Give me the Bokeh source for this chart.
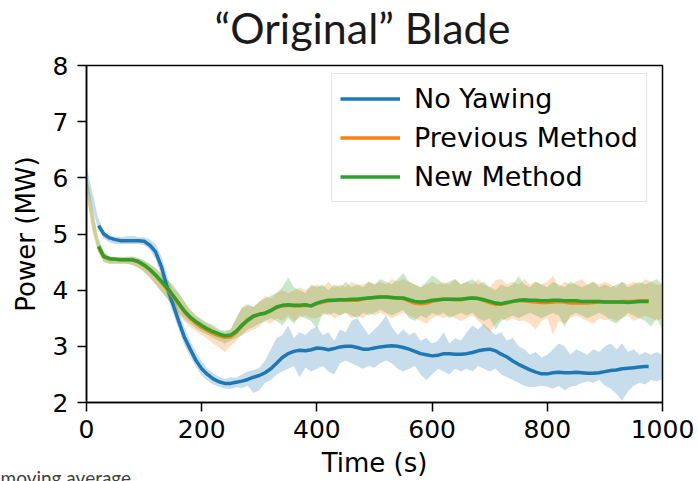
from bokeh.plotting import figure
from bokeh.models import Range1d, Legend, LegendItem, FixedTicker, Title
from bokeh.embed import file_html
from bokeh.resources import INLINE

# ---------------------------------------------------------------- data
# sample times of the raw power signal (s)
band_time = list(range(0, 1001, 10))
# sample times of the moving-average curves (s)
ma_time = [21] + list(range(30, 971, 10)) + [976]

x_ticks = [0, 200, 400, 600, 800, 1000]
y_ticks = [2, 3, 4, 5, 6, 7, 8]

series_names = ["No Yawing", "Previous Method", "New Method"]

# moving averages (MW)
no_yaw_ma = [5.15,
             5.00, 4.93, 4.90, 4.88, 4.88, 4.88, 4.88,
             4.87, 4.80, 4.68, 4.42, 4.05, 3.75, 3.45, 3.16, 2.95, 2.75,
             2.60, 2.50, 2.42, 2.37, 2.34, 2.34, 2.36, 2.38, 2.41, 2.45,
             2.48, 2.53, 2.60, 2.70, 2.80, 2.87, 2.91, 2.93, 2.92, 2.94,
             2.97, 2.96, 2.94, 2.96, 2.99, 3.00, 3.00, 2.98, 2.95, 2.95,
             2.97, 2.99, 3.00, 3.01, 3.00, 2.98, 2.95, 2.91, 2.87, 2.85,
             2.83, 2.84, 2.87, 2.87, 2.86, 2.86, 2.87, 2.89, 2.92, 2.94,
             2.95, 2.92, 2.86, 2.81, 2.74, 2.68, 2.63, 2.58, 2.54, 2.51,
             2.51, 2.53, 2.54, 2.53, 2.53, 2.54, 2.53, 2.52, 2.52, 2.53,
             2.55, 2.57, 2.58, 2.60, 2.61, 2.62, 2.63, 2.64,
             2.64]

previous_ma = [4.77,
               4.59, 4.56, 4.55, 4.54, 4.54, 4.54, 4.50,
               4.44, 4.36, 4.26, 4.14, 4.02, 3.89, 3.75, 3.61, 3.50, 3.41,
               3.34, 3.28, 3.23, 3.19, 3.16, 3.17, 3.25, 3.36, 3.46, 3.53,
               3.57, 3.59, 3.63, 3.69, 3.72, 3.73, 3.72, 3.72, 3.73, 3.72,
               3.76, 3.79, 3.81, 3.82, 3.82, 3.82, 3.82, 3.82, 3.84, 3.86,
               3.87, 3.88, 3.88, 3.87, 3.86, 3.85, 3.81, 3.77, 3.76, 3.77,
               3.80, 3.82, 3.84, 3.84, 3.83, 3.83, 3.85, 3.86, 3.85, 3.82,
               3.78, 3.75, 3.75, 3.77, 3.80, 3.81, 3.81, 3.80, 3.79, 3.78,
               3.78, 3.79, 3.80, 3.79, 3.77, 3.77, 3.77, 3.77, 3.78, 3.79,
               3.79, 3.79, 3.79, 3.80, 3.80, 3.80, 3.81, 3.81,
               3.81]

new_ma = [4.78,
          4.60, 4.56, 4.55, 4.54, 4.54, 4.54, 4.51,
          4.45, 4.37, 4.27, 4.16, 4.04, 3.91, 3.77, 3.63, 3.52, 3.44,
          3.37, 3.31, 3.26, 3.22, 3.19, 3.20, 3.27, 3.38, 3.47, 3.54,
          3.57, 3.59, 3.64, 3.70, 3.73, 3.74, 3.73, 3.73, 3.74, 3.72,
          3.77, 3.80, 3.82, 3.82, 3.83, 3.83, 3.84, 3.84, 3.85, 3.86,
          3.87, 3.88, 3.88, 3.87, 3.86, 3.86, 3.83, 3.80, 3.79, 3.80,
          3.82, 3.83, 3.84, 3.84, 3.84, 3.84, 3.85, 3.86, 3.85, 3.83,
          3.80, 3.77, 3.76, 3.78, 3.80, 3.82, 3.83, 3.82, 3.82, 3.81,
          3.81, 3.82, 3.82, 3.81, 3.81, 3.81, 3.80, 3.80, 3.80, 3.80,
          3.79, 3.79, 3.79, 3.79, 3.78, 3.79, 3.80, 3.80,
          3.80]

# envelope of the raw signal (MW)
no_yaw_low = [5.90, 5.45, 5.10, 4.92, 4.85, 4.82, 4.82, 4.82, 4.82, 4.82,
              4.80, 4.72, 4.55, 4.25, 3.90, 3.60, 3.30, 3.02, 2.82, 2.63,
              2.48, 2.39, 2.32, 2.28, 2.25, 2.24, 2.27, 2.26, 2.30, 2.17,
              2.22, 2.35, 2.40, 2.50, 2.55, 2.60, 2.65, 2.45, 2.62, 2.55,
              2.60, 2.65, 2.55, 2.50, 2.70, 2.75, 2.70, 2.65, 2.60, 2.65,
              2.62, 2.70, 2.75, 2.70, 2.60, 2.55, 2.60, 2.65, 2.50, 2.40,
              2.50, 2.60, 2.55, 2.50, 2.60, 2.55, 2.60, 2.55, 2.65, 2.60,
              2.55, 2.60, 2.50, 2.45, 2.40, 2.35, 2.30, 2.27, 2.28, 2.30,
              2.28, 2.25, 2.30, 2.22, 2.28, 2.30, 2.35, 2.38, 2.35, 2.40,
              2.30, 2.25, 2.15, 2.03, 2.20, 2.30, 2.35, 2.32, 2.40, 2.38,
              2.42]
no_yaw_high = [6.20, 5.75, 5.30, 5.05, 4.97, 4.95, 4.94, 4.96, 4.97, 4.94,
               4.94, 4.90, 4.82, 4.60, 4.25, 3.95, 3.62, 3.33, 3.10, 2.90,
               2.73, 2.60, 2.52, 2.46, 2.42, 2.45, 2.44, 2.50, 2.55, 2.58,
               2.62, 2.75, 2.95, 3.15, 3.20, 3.37, 3.15, 3.25, 3.20, 3.30,
               3.35, 3.20, 3.25, 3.10, 3.30, 3.25, 3.45, 3.50, 3.35, 3.20,
               3.30, 3.40, 3.55, 3.35, 3.20, 3.30, 3.20, 3.25, 3.10, 3.15,
               3.05, 3.10, 3.25, 3.05, 3.15, 3.10, 3.25, 3.37, 3.30, 3.40,
               3.30, 3.20, 3.25, 3.10, 3.15, 3.00, 2.95, 2.85, 2.90, 2.80,
               2.85, 2.95, 3.05, 3.00, 2.85, 2.95, 2.90, 2.85, 2.95, 2.90,
               3.00, 3.05, 2.95, 3.05, 2.90, 2.95, 2.85, 2.90, 2.85, 2.90,
               2.85]

previous_low = [5.70, 5.05, 4.68, 4.50, 4.47, 4.47, 4.47, 4.47, 4.45, 4.40,
                4.33, 4.22, 4.10, 3.97, 3.85, 3.70, 3.56, 3.44, 3.35, 3.27,
                3.20, 3.13, 3.05, 2.98, 2.90, 3.00, 3.10, 3.20, 3.25, 3.30,
                3.35, 3.45, 3.40, 3.50, 3.45, 3.55, 3.45, 3.50, 3.55, 3.50,
                3.50, 3.55, 3.60, 3.50, 3.55, 3.60, 3.50, 3.55, 3.50, 3.60,
                3.55, 3.60, 3.55, 3.50, 3.55, 3.60, 3.55, 3.50, 3.45, 3.40,
                3.50, 3.55, 3.50, 3.55, 3.50, 3.45, 3.50, 3.55, 3.45, 3.35,
                3.25, 3.40, 3.50, 3.45, 3.50, 3.45, 3.46, 3.40, 3.30, 3.45,
                3.50, 3.20, 3.45, 3.40, 3.50, 3.55, 3.50, 3.45, 3.40, 3.50,
                3.46, 3.50, 3.45, 3.50, 3.55, 3.45, 3.50, 3.55, 3.50, 3.45,
                3.50]
previous_high = [6.05, 5.45, 4.92, 4.66, 4.60, 4.58, 4.60, 4.58, 4.60, 4.57,
                 4.53, 4.47, 4.38, 4.30, 4.20, 4.05, 3.95, 3.80, 3.65, 3.55,
                 3.47, 3.40, 3.35, 3.28, 3.25, 3.30, 3.50, 3.68, 3.72, 3.70,
                 3.78, 3.90, 3.85, 3.95, 4.00, 3.95, 4.00, 4.05, 4.00, 4.05,
                 4.10, 4.05, 4.15, 4.05, 4.10, 4.05, 4.15, 4.10, 4.10, 4.15,
                 4.10, 4.15, 4.10, 4.20, 4.15, 4.20, 4.15, 4.10, 4.05, 4.10,
                 4.15, 4.10, 4.15, 4.10, 4.20, 4.10, 4.15, 4.10, 4.20, 4.10,
                 4.05, 4.17, 4.20, 4.10, 4.15, 4.10, 4.20, 4.10, 4.15, 4.10,
                 4.15, 4.26, 4.05, 4.15, 4.10, 4.15, 4.20, 4.10, 4.15, 4.10,
                 4.15, 4.10, 4.05, 4.15, 4.10, 4.15, 4.10, 4.20, 4.15, 4.10,
                 4.10]

new_low = [5.75, 5.10, 4.70, 4.50, 4.47, 4.47, 4.47, 4.47, 4.45, 4.40,
           4.33, 4.22, 4.10, 3.97, 3.85, 3.72, 3.60, 3.48, 3.40, 3.32,
           3.25, 3.20, 3.15, 3.10, 3.05, 3.10, 3.15, 3.20, 3.30, 3.35,
           3.40, 3.45, 3.50, 3.45, 3.37, 3.50, 3.40, 3.55, 3.50, 3.45,
           3.31, 3.60, 3.55, 3.60, 3.55, 3.60, 3.55, 3.50, 3.60, 3.55,
           3.60, 3.65, 3.60, 3.55, 3.60, 3.65, 3.50, 3.45, 3.55, 3.50,
           3.60, 3.55, 3.60, 3.50, 3.55, 3.60, 3.55, 3.60, 3.50, 3.45,
           3.50, 3.30, 3.45, 3.50, 3.55, 3.50, 3.55, 3.60, 3.55, 3.50,
           3.55, 3.60, 3.55, 3.35, 3.55, 3.60, 3.55, 3.50, 3.55, 3.60,
           3.55, 3.45, 3.40, 3.50, 3.60, 3.55, 3.50, 3.45, 3.35, 3.50,
           3.30]
new_high = [6.10, 5.50, 4.95, 4.68, 4.60, 4.58, 4.58, 4.60, 4.60, 4.57,
            4.53, 4.46, 4.40, 4.28, 4.18, 4.10, 3.95, 3.80, 3.65, 3.55,
            3.48, 3.42, 3.38, 3.30, 3.28, 3.30, 3.50, 3.70, 3.75, 3.70,
            3.80, 3.85, 3.90, 3.95, 4.05, 4.23, 4.05, 4.00, 3.95, 4.10,
            4.05, 4.10, 4.00, 4.10, 4.05, 4.15, 4.05, 4.10, 4.05, 4.15,
            4.10, 4.20, 4.15, 4.10, 4.20, 4.30, 4.15, 4.10, 4.05, 4.15,
            4.26, 4.20, 4.10, 4.15, 4.20, 4.10, 4.15, 4.20, 4.10, 4.15,
            4.05, 4.00, 4.10, 4.05, 4.10, 4.25, 4.10, 4.05, 4.15, 4.10,
            4.05, 4.15, 4.10, 4.05, 4.15, 4.10, 4.05, 4.10, 4.15, 4.05,
            4.10, 4.05, 4.10, 4.15, 4.05, 4.10, 4.15, 4.10, 4.15, 4.20,
            4.10]

colors = ["#1f77b4", "#ff7f0e", "#2ca02c"]

# ---------------------------------------------------------------- figure
p = figure(width=698, height=481, output_backend="svg", toolbar_location=None,
           title=None,
           x_range=Range1d(0, 1000), y_range=Range1d(2, 8),
           min_border_left=86, min_border_right=36,
           min_border_top=65, min_border_bottom=79,
           x_axis_label="Time (s)", y_axis_label="Power (MW)")
p.background_fill_color = "white"
p.border_fill_color = "white"
p.outline_line_color = "black"
p.outline_line_width = 1.5
p.xgrid.grid_line_color = None
p.ygrid.grid_line_color = None

# heading above the frame: a thin blank strip next to the frame, then the text
gap = Title(text=" ", text_font_size="1px", standoff=15)
heading = Title(text="\u201cOriginal\u201d Blade", align="left", offset=128,
                standoff=-11, vertical_align="bottom", text_font="Lato",
                text_font_size="43px", text_font_style="normal",
                text_color="#1a1a1a")
p.add_layout(gap, "above")
p.add_layout(heading, "above")

p.xaxis.ticker = FixedTicker(ticks=x_ticks)
p.yaxis.ticker = FixedTicker(ticks=y_ticks)
for ax in (p.xaxis[0], p.yaxis[0]):
    ax.axis_line_color = "black"
    ax.axis_line_width = 1.5
    ax.major_tick_line_color = "black"
    ax.major_tick_line_width = 1.5
    ax.major_tick_out = 9
    ax.major_tick_in = 0
    ax.minor_tick_out = 0
    ax.minor_tick_in = 0
    ax.major_label_text_font = "DejaVu Sans"
    ax.major_label_text_font_size = "25px"
    ax.major_label_text_color = "black"
    ax.axis_label_text_font = "DejaVu Sans"
    ax.axis_label_text_font_size = "26px"
    ax.axis_label_text_font_style = "normal"
    ax.axis_label_text_color = "black"
p.xaxis.major_label_standoff = 8
p.xaxis.axis_label_standoff = 7
p.yaxis.major_label_standoff = 9
p.yaxis.axis_label_standoff = 9

# footnote in the bottom-left corner, tucked beside the x-axis title
note = Title(text="moving average", align="left", offset=-86, standoff=-30,
             vertical_align="top", text_font="Lato", text_font_size="19px",
             text_font_style="normal", text_color="#404040")
p.add_layout(note, "below")

# shaded raw-signal envelopes
bands = [(no_yaw_low, no_yaw_high), (previous_low, previous_high), (new_low, new_high)]
for (lo, hi), c in zip(bands, colors):
    p.varea(x=band_time, y1=lo, y2=hi, fill_color=c, fill_alpha=0.25)

# moving-average curves
items = []
for name, ys, c in zip(series_names, [no_yaw_ma, previous_ma, new_ma], colors):
    r = p.line(ma_time, ys, line_color=c, line_width=3.5)
    items.append(LegendItem(label=name, renderers=[r]))

legend = Legend(items=items, location=(245, 200))
legend.padding = 8
legend.spacing = 6
legend.glyph_width = 60
legend.glyph_height = 33
legend.label_height = 33
legend.label_standoff = 14
legend.label_text_font = "DejaVu Sans"
legend.label_text_font_size = "27px"
legend.label_text_color = "black"
legend.border_line_color = "#cccccc"
legend.border_line_width = 1
legend.background_fill_alpha = 0.8
p.add_layout(legend)

open("out.html", "w").write(file_html(p, INLINE))
